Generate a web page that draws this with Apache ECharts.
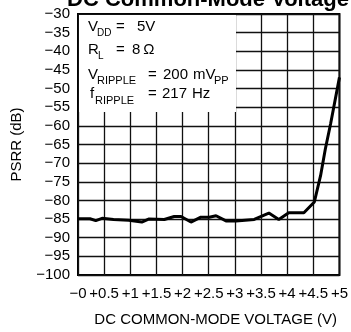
<!DOCTYPE html>
<html><head><meta charset="utf-8">
<script src="https://cdn.jsdelivr.net/npm/echarts@6/dist/echarts.min.js"></script>
<style>html,body{margin:0;padding:0;background:#fff}#c{width:351px;height:332px}</style>
</head><body><div id="c"></div>
<script>
var voltage = [0, 0.23, 0.34, 0.46, 0.68, 0.97, 1.22, 1.35, 1.65, 1.84, 1.97, 2.16, 2.35, 2.51, 2.64, 2.83, 3.02, 3.37, 3.65, 3.84, 4.03, 4.32, 4.52, 4.64, 4.73, 4.83, 5.0];
var psrr = [-84.9, -84.9, -85.4, -84.8, -85.1, -85.3, -85.8, -85.0, -85.1, -84.3, -84.3, -85.8, -84.5, -84.5, -84.1, -85.5, -85.5, -85.1, -83.4, -85.1, -83.3, -83.3, -80.4, -73.3, -66.2, -59.5, -47];
var xTickLabels = ['\u22120', '+0.5', '+1', '+1.5', '+2', '+2.5', '+3', '+3.5', '+4', '+4.5', '+5'];
var yTicks = [-100, -95, -90, -85, -80, -75, -70, -65, -60, -55, -50, -45, -40, -35, -30];

var FONT = 'Liberation Sans';
var data = voltage.map(function (v, i) { return [v, psrr[i]]; });

function txt(x, y, s, size) {
  return { type: 'text', x: x, y: y, z: 20,
    style: { text: s, fontFamily: FONT, fontSize: size, fill: '#000', verticalAlign: 'middle', align: 'left' } };
}

var chart = echarts.init(document.getElementById('c'), null, { renderer: 'canvas' });
chart.setOption({
  animation: false,
  backgroundColor: '#fff',
  grid: { left: 78, right: 10, top: 14, bottom: 57, show: true, borderColor: '#000', borderWidth: 2, containLabel: false },
  xAxis: {
    type: 'value', min: 0, max: 5, interval: 0.5,
    axisLine: { show: false },
    axisTick: { show: false },
    splitLine: { show: true, lineStyle: { color: '#111', width: 1.3 } },
    axisLabel: { margin: 11, fontFamily: FONT, fontSize: 15, color: '#000',
      formatter: function (v) { return xTickLabels[Math.round(v / 0.5)]; } },
    name: 'DC COMMON-MODE VOLTAGE (V)', nameLocation: 'middle', nameGap: 37,
    nameTextStyle: { fontFamily: FONT, fontSize: 15, color: '#000', padding: [0, 0, 0, 14] }
  },
  yAxis: {
    type: 'value', min: -100, max: -30, interval: 5,
    axisLine: { show: false },
    axisTick: { show: false },
    splitLine: { show: true, lineStyle: { color: '#111', width: 1.3 } },
    axisLabel: { margin: 8, fontFamily: FONT, fontSize: 15, color: '#000',
      formatter: function (v) { return yTicks.indexOf(v) >= 0 ? String(v).replace('-', '\u2212') : ''; } },
    name: 'PSRR (dB)', nameLocation: 'middle', nameGap: 54, nameRotate: 90,
    nameTextStyle: { fontFamily: FONT, fontSize: 15, color: '#000' }
  },
  series: [{
    type: 'line', data: data, symbol: 'none', z: 5,
    lineStyle: { color: '#000', width: 3 }
  }],
  graphic: [
    { type: 'rect', z: 10, shape: { x: 79, y: 15, width: 157, height: 97 }, style: { fill: '#fff' } },
    { type: 'text', x: 208, y: -0.5, z: 20, style: { text: 'DC Common-Mode Voltage', fontFamily: FONT, fontSize: 22, fontWeight: 'bold', fill: '#000', align: 'center', verticalAlign: 'middle' } },
    txt(88, 26.5, 'V', 15), txt(97, 33.5, 'DD', 10), txt(116, 26.5, '=', 15), txt(137, 26.5, '5V', 15),
    txt(88, 49.5, 'R', 15), txt(98, 56.5, 'L', 10), txt(116, 49.5, '=', 15), txt(132, 49.5, '8\u2009\u03A9', 15),
    txt(88, 74.5, 'V', 15), txt(97, 80.5, 'RIPPLE', 11), txt(148, 74.5, '=', 15), txt(163, 74.5, '200', 15), txt(193, 74.5, 'mV', 15), txt(214, 80.5, 'PP', 11),
    txt(90, 93.5, 'f', 15), txt(95, 101, 'RIPPLE', 11), txt(148, 93.5, '=', 15), txt(162, 93.5, '217', 15), txt(192, 93.5, 'Hz', 15)
  ]
});
</script></body></html>
